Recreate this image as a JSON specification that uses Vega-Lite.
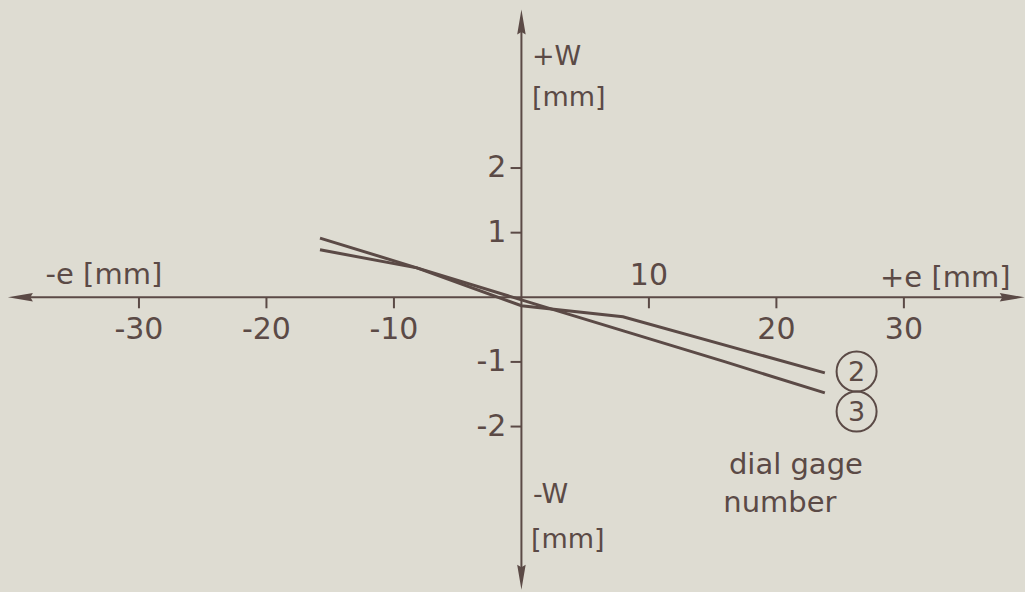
{
  "$schema": "https://vega.github.io/schema/vega-lite/v6.json",
  "width": 1025,
  "height": 592,
  "autosize": {"type": "fit", "contains": "padding"},
  "padding": 0,
  "background": "#dedcd2",
  "config": {"view": {"stroke": null}},
  "datasets": {
    "curves": [
      {"gage": "2", "e": -15.8, "w": 0.735},
      {"gage": "2", "e": -8.2, "w": 0.455},
      {"gage": "2", "e": 0.0, "w": -0.13},
      {"gage": "2", "e": 7.96, "w": -0.3},
      {"gage": "2", "e": 23.8, "w": -1.17},
      {"gage": "3", "e": -15.8, "w": 0.916},
      {"gage": "3", "e": -8.2, "w": 0.456},
      {"gage": "3", "e": 0.0, "w": -0.04},
      {"gage": "3", "e": 8.0, "w": -0.52},
      {"gage": "3", "e": 16.0, "w": -1.0},
      {"gage": "3", "e": 23.8, "w": -1.48}
    ],
    "axisLines": [
      {"x1": -39.3, "x2": 38.5, "y1": 0, "y2": 0},
      {"x1": 0, "x2": 0, "y1": -4.33, "y2": 4.26}
    ],
    "arrows": [
      {"x": 38.5, "y": 0, "dir": 0},
      {"x": -39.3, "y": 0, "dir": 180},
      {"x": 0, "y": 4.26, "dir": 270},
      {"x": 0, "y": -4.33, "dir": 90}
    ],
    "xTicks": [
      {"v": -30}, {"v": -20}, {"v": -10}, {"v": 10}, {"v": 20}, {"v": 30}
    ],
    "yTicks": [
      {"v": -2}, {"v": -1}, {"v": 1}, {"v": 2}
    ],
    "xTickLabels": [
      {"v": -30, "y": -0.5, "t": "-30"},
      {"v": -20, "y": -0.5, "t": "-20"},
      {"v": -10, "y": -0.5, "t": "-10"},
      {"v": 10, "y": 0.33, "t": "10"},
      {"v": 20, "y": -0.5, "t": "20"},
      {"v": 30, "y": -0.5, "t": "30"}
    ],
    "yTickLabels": [
      {"v": 2, "t": "2"},
      {"v": 1, "t": "1"},
      {"v": -1, "t": "-1"},
      {"v": -2, "t": "-2"}
    ],
    "leftText": [
      {"x": 0.82, "y": 3.72, "t": "+W"},
      {"x": 0.82, "y": 3.09, "t": "[mm]"},
      {"x": 0.9, "y": -3.06, "t": "-W"},
      {"x": 0.75, "y": -3.75, "t": "[mm]"}
    ],
    "centerText": [
      {"x": -32.75, "y": 0.35, "t": "-e [mm]"},
      {"x": 33.25, "y": 0.3, "t": "+e [mm]"},
      {"x": 21.53, "y": -2.59, "t": "dial gage"},
      {"x": 20.27, "y": -3.18, "t": "number"}
    ],
    "gageMarks": [
      {"x": 26.29, "y": -1.149, "t": "2"},
      {"x": 26.29, "y": -1.768, "t": "3"}
    ]
  },
  "layer": [
    {
      "data": {"name": "axisLines"},
      "mark": {"type": "rule", "color": "#5b4a46", "strokeWidth": 2},
      "encoding": {
        "x": {"field": "x1", "type": "quantitative", "scale": {"domain": [-40.9, 39.5], "nice": false, "zero": false}, "axis": null},
        "x2": {"field": "x2"},
        "y": {"field": "y1", "type": "quantitative", "scale": {"domain": [-4.56, 4.6], "nice": false, "zero": false}, "axis": null},
        "y2": {"field": "y2"}
      }
    },
    {
      "data": {"name": "arrows"},
      "mark": {"type": "point", "filled": true, "color": "#5b4a46", "opacity": 1, "size": 625, "shape": "M1,0L-1,-0.34L-0.8,0L-1,0.34Z"},
      "encoding": {
        "x": {"field": "x", "type": "quantitative"},
        "y": {"field": "y", "type": "quantitative"},
        "angle": {"field": "dir", "type": "quantitative", "scale": null}
      }
    },
    {
      "data": {"name": "xTicks"},
      "mark": {"type": "rule", "color": "#5b4a46", "strokeWidth": 2},
      "encoding": {
        "x": {"field": "v", "type": "quantitative"},
        "y": {"datum": 0, "type": "quantitative"},
        "y2": {"datum": -0.17}
      }
    },
    {
      "data": {"name": "yTicks"},
      "mark": {"type": "rule", "color": "#5b4a46", "strokeWidth": 2},
      "encoding": {
        "y": {"field": "v", "type": "quantitative"},
        "x": {"datum": 0, "type": "quantitative"},
        "x2": {"datum": -0.85}
      }
    },
    {
      "data": {"name": "curves"},
      "mark": {"type": "line", "color": "#5b4a46", "strokeWidth": 3},
      "encoding": {
        "x": {"field": "e", "type": "quantitative"},
        "y": {"field": "w", "type": "quantitative"},
        "detail": {"field": "gage", "type": "nominal"}
      }
    },
    {
      "data": {"name": "xTickLabels"},
      "mark": {"type": "text", "font": "DejaVu Sans", "fontSize": 30, "color": "#5b4a46", "align": "center", "baseline": "middle"},
      "encoding": {
        "x": {"field": "v", "type": "quantitative"},
        "y": {"field": "y", "type": "quantitative"},
        "text": {"field": "t"}
      }
    },
    {
      "data": {"name": "yTickLabels"},
      "mark": {"type": "text", "font": "DejaVu Sans", "fontSize": 30, "color": "#5b4a46", "align": "right", "baseline": "middle", "dx": -15},
      "encoding": {
        "x": {"datum": 0, "type": "quantitative"},
        "y": {"field": "v", "type": "quantitative"},
        "text": {"field": "t"}
      }
    },
    {
      "data": {"name": "leftText"},
      "mark": {"type": "text", "font": "DejaVu Sans", "fontSize": 27, "color": "#5b4a46", "align": "left", "baseline": "middle"},
      "encoding": {
        "x": {"field": "x", "type": "quantitative"},
        "y": {"field": "y", "type": "quantitative"},
        "text": {"field": "t"}
      }
    },
    {
      "data": {"name": "centerText"},
      "mark": {"type": "text", "font": "DejaVu Sans", "fontSize": 29, "color": "#5b4a46", "align": "center", "baseline": "middle"},
      "encoding": {
        "x": {"field": "x", "type": "quantitative"},
        "y": {"field": "y", "type": "quantitative"},
        "text": {"field": "t"}
      }
    },
    {
      "data": {"name": "gageMarks"},
      "mark": {"type": "point", "shape": "circle", "size": 1600, "filled": false, "color": "#5b4a46", "strokeWidth": 2, "opacity": 1},
      "encoding": {
        "x": {"field": "x", "type": "quantitative"},
        "y": {"field": "y", "type": "quantitative"}
      }
    },
    {
      "data": {"name": "gageMarks"},
      "mark": {"type": "text", "font": "DejaVu Sans", "fontSize": 27, "color": "#5b4a46", "align": "center", "baseline": "middle", "dy": 1},
      "encoding": {
        "x": {"field": "x", "type": "quantitative"},
        "y": {"field": "y", "type": "quantitative"},
        "text": {"field": "t"}
      }
    }
  ]
}
